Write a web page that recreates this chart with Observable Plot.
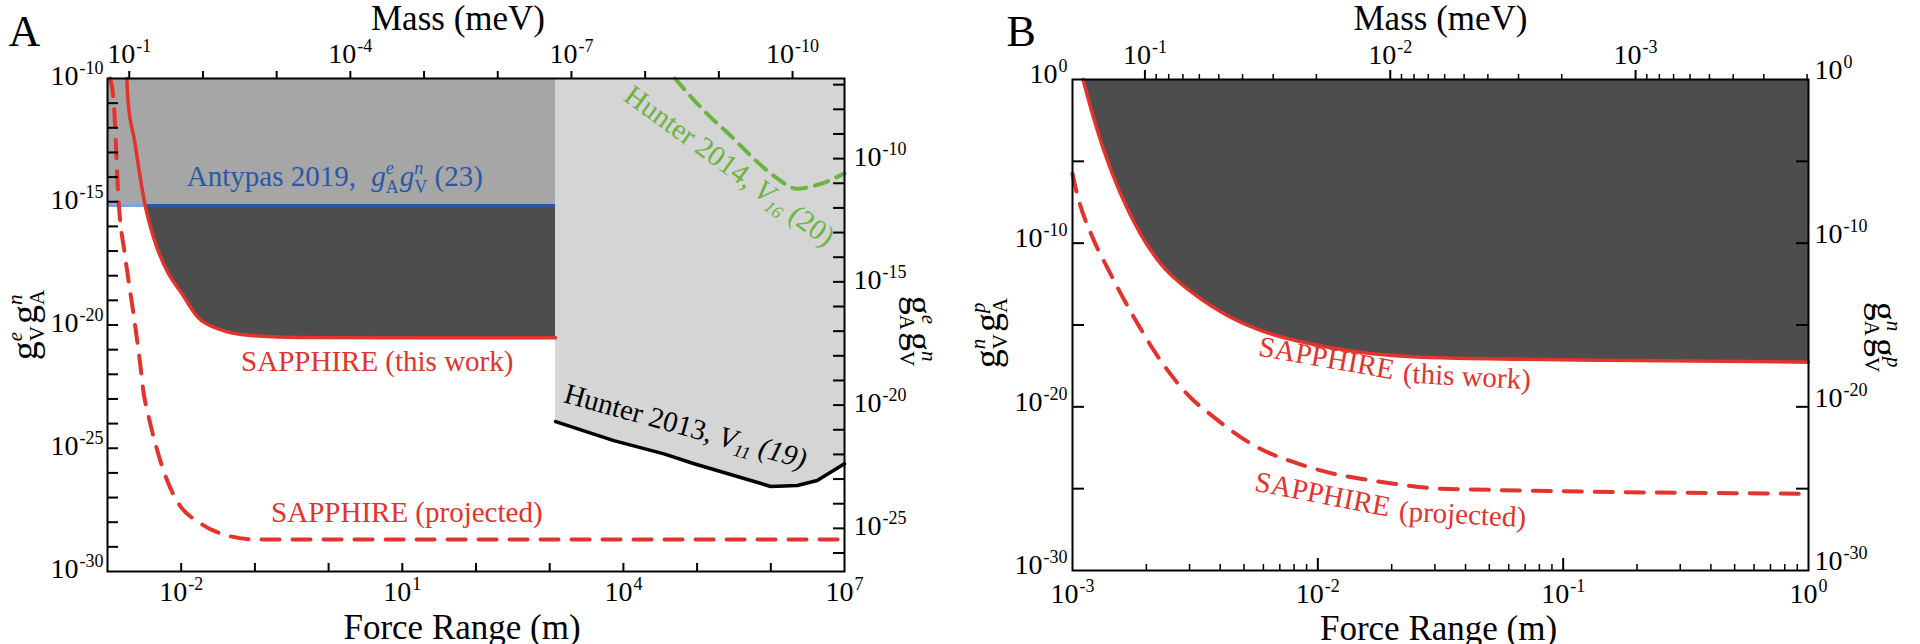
<!DOCTYPE html>
<html><head><meta charset="utf-8">
<script src="https://cdn.jsdelivr.net/npm/d3@7"></script>
<script src="https://cdn.jsdelivr.net/npm/@observablehq/plot@0.6"></script>
<style>
html,body{margin:0;padding:0;background:#fff;}
#wrap{display:flex;width:1920px;height:644px;}
.panel{width:960px;height:644px;}
svg{overflow:visible;}
</style></head><body>
<div id="wrap"><div id="pa" class="panel"></div><div id="pb" class="panel"></div></div>
<script>
// ---------- constants ----------
const HC = 1.9733e-4; // meV·m  (mass = HC / range)
const FONT = "'Liberation Serif', 'Times New Roman', Times, serif";
const RED = "#e2332c", BLUE = "#2b58a6", LIGHTBLUE = "#7fa3dc", GREEN = "#6cb43f";
const MED = "#a6a6a6", DARK = "#4d4d4d", LIGHT = "#d5d5d5";

// ---------- Panel A data (log10 values) ----------
const aRangeExp = [-3, 7];          // force range domain (m)
const aCouplingExp = [-30, -10];    // g^e_V g^n_A domain
const aRightOffset = 3.25;          // right axis (g^e_A g^n_V) = left * 10^offset
const aAntypasExp = -15.15;         // Antypas 2019 level
const aAntypasSplitExp = -2.488;    // where SAPPHIRE crosses Antypas (m)
const aHunterEdgeExp = 3.08;        // start of Hunter region (m)

const aSapRangeExp = [-2.738,-2.722,-2.633,-2.542,-2.488,-2.362,-2.181,-2.0,-1.770,-1.503,-1.051,-0.374,3.08];
const aSapGExp     = [-10,-10.89,-12.52,-14.27,-15.16,-16.57,-17.87,-18.68,-19.70,-20.15,-20.43,-20.51,-20.52];

const aProjRangeExp = [-2.962,-2.917,-2.850,-2.759,-2.641,-2.551,-2.515,-2.451,-2.332,-2.190,-2.027,-1.756,-1.377,-0.97,7];
const aProjGExp     = [-10,-10.89,-14.95,-17.25,-19.68,-21.71,-22.66,-23.59,-25.01,-26.31,-27.28,-28.01,-28.54,-28.70,-28.70];

const aH13RangeExp = [3.08,3.87,4.55,4.96,6.0,6.36,6.63,7.0];
const aH13GExp     = [-23.92,-24.69,-25.23,-25.63,-26.55,-26.51,-26.31,-25.63];

const aH14RangeExp = [4.70,5.114,5.476,5.747,6.063,6.356,6.649,7.0];
const aH14GExp     = [-10,-11.37,-12.38,-13.19,-14.0,-14.47,-14.30,-13.85];

// ticks / labels A
const aBottomTickExp = [-2,-1,0,1,2,3,4,5,6];
const aBottomLabelExp = [-2,1,4,7];
const aLeftTickExp = d3.range(-29, -10);
const aLeftLabelExp = [-10,-15,-20,-25,-30];
const aRightTickExp = d3.range(-26, -6);
const aRightLabelExp = [-10,-15,-20,-25];
const aMassTickExp = [-1,-2,-3,-4,-5,-6,-7,-8,-9,-10];
const aMassLabelExp = [-1,-4,-7,-10];

// ---------- Panel B data ----------
const bRangeExp = [-3, 0];
const bCouplingExp = [-30, 0];
const bSapRangeExp = [-2.957,-2.934,-2.872,-2.804,-2.723,-2.641,-2.506,-2.369,-2.234,-2.030,-1.826,-1.50,-0.82,0];
const bSapGExp     = [0,-1.28,-4.34,-6.98,-9.43,-11.26,-13.09,-14.42,-15.33,-16.15,-16.66,-17.0,-17.15,-17.27];
const bProjRangeExp = [-3.0,-2.988,-2.913,-2.859,-2.75,-2.641,-2.519,-2.424,-2.315,-2.206,-2.098,-1.962,-1.826,-1.69,-1.50,0];
const bProjGExp     = [-5.76,-6.58,-9.83,-11.47,-14.52,-17.17,-19.43,-20.63,-21.85,-22.77,-23.38,-23.99,-24.39,-24.70,-25.0,-25.31];

const bBottomMajorExp = [-2,-1];
const bBottomMinorMult = [2,3,4,5,6,7,8,9];
const bBottomLabelExp = [-3,-2,-1,0];
const bSideTickExp = [-5,-10,-15,-20,-25];
const bSideLabelExp = [0,-10,-20,-30];
const bMassMajorExp = [-1,-2,-3];
const bMassMinorDecades = [-2,-3,-4];
const bMassLabelExp = [-1,-2,-3];

// ---------- annotation positions (log10 range, log10 coupling) ----------
const aNotes = [
  {key:"@antypas", r:-1.923, g:-14.38, rot:0, color:BLUE},
  {key:"SAPPHIRE (this work)", r:-1.187, g:-21.85, rot:0, color:RED},
  {key:"SAPPHIRE (projected)", r:-0.78, g:-28.0, rot:0, color:RED},
  {key:"@h13", r:3.172, g:-23.12, rot:15.5, color:"#000"},
  {key:"@h14", r:3.985, g:-10.85, rot:36, color:GREEN}
];
const bNotes = [
  {key:"SAPPHIRE", r:-2.246, g:-16.86, rot:10, color:RED},
  {key:"(this work)", r:-1.655, g:-18.51, rot:3, color:RED},
  {key:"SAPPHIRE", r:-2.262, g:-25.11, rot:11, color:RED},
  {key:"(projected)", r:-1.671, g:-26.94, rot:3, color:RED}
];

// ---------- helpers ----------
const pts = (xs, ys) => xs.map((x, i) => ({x: 10 ** x, y: 10 ** ys[i]}));
const p10 = e => 10 ** e;
const expLabel = d => "10^" + Math.round(Math.log10(d));

const gTitle = (e1, s1, e2, s2) => [
  {t:"g", fs:38},
  {t:e1, fs:21, it:1, dy:-15},
  {t:s1, fs:21, dx:-(e1 === "e" ? 9.3 : 10.5), dy:22},
  {t:"g", fs:38, dy:-7, dx:2},
  {t:e2, fs:21, it:1, dy:-15},
  {t:s2, fs:21, dx:-(e2 === "e" ? 9.3 : 10.5), dy:22}
];
const RICH = {
  "@antypas": [{t:"Antypas 2019, "}, {t:"g", it:1, dx:8}, {t:"e", fs:18, it:1, dy:-12}, {t:"A", fs:18, dx:-8, dy:19},
               {t:"g", it:1, dy:-7, dx:1}, {t:"n", fs:18, it:1, dy:-12}, {t:"V", fs:18, dx:-9, dy:19}, {t:" (23)", dy:-7}],
  "@h13": [{t:"Hunter 2013, "}, {t:"V", it:1}, {t:"11", it:1, fs:18, dy:6}, {t:" (19)", it:1, dy:-6}],
  "@h14": [{t:"Hunter 2014, "}, {t:"V", it:1}, {t:"16", it:1, fs:18, dy:6}, {t:" (20)", dy:-6}],
  "@aLeft": gTitle("e","V","n","A"),
  "@aRight": gTitle("e","A","n","V"),
  "@bLeft": gTitle("n","V","p","A"),
  "@bRight": gTitle("n","A","p","V")
};

function applyRich(svg) {
  d3.select(svg).selectAll("text").each(function () {
    if (this.querySelector("tspan")) return;
    const t = this.textContent;
    let parts = null;
    const m = /^10\^(-?\d+)$/.exec(t);
    if (m) parts = [{t:"10"}, {t:m[1], fs:18, dy:-11, dx:1}];
    else if (RICH[t]) parts = RICH[t];
    if (!parts) return;
    const el = d3.select(this);
    el.text(null);
    for (const p of parts) {
      const s = el.append("tspan").text(p.t);
      if (p.fs) s.attr("font-size", p.fs);
      if (p.dy) s.attr("dy", p.dy);
      if (p.dx) s.attr("dx", p.dx);
      if (p.it) s.attr("font-style", "italic");
    }
  });
}

// ---------- Panel A ----------
const aSap = pts(aSapRangeExp, aSapGExp);
const aProj = pts(aProjRangeExp, aProjGExp);
const aH13 = pts(aH13RangeExp, aH13GExp);
const aH14 = pts(aH14RangeExp, aH14GExp);
const antypas = p10(aAntypasExp);
const aDark = aSap.map(d => ({x: d.x, lo: Math.min(d.y, antypas), hi: antypas}));
const aPW = 960 - 107 - 116, aPH = 644 - 78 - 73;

const plotA = Plot.plot({
  width: 960, height: 644,
  marginLeft: 107, marginRight: 116, marginTop: 78, marginBottom: 73,
  x: {type: "log", domain: aRangeExp.map(p10)},
  y: {type: "log", domain: aCouplingExp.map(p10)},
  style: {fontFamily: FONT, fontSize: "28px", color: "#000", background: "transparent"},
  marks: [
    Plot.rect([{x1: p10(aRangeExp[0]), x2: p10(aHunterEdgeExp), y1: antypas, y2: p10(aCouplingExp[1])}],
      {x1: "x1", x2: "x2", y1: "y1", y2: "y2", fill: MED}),
    Plot.areaY(aDark, {x: "x", y1: "lo", y2: "hi", fill: DARK, curve: "monotone-x"}),
    Plot.areaY(aH13, {x: "x", y1: "y", y2: p10(aCouplingExp[1]), fill: LIGHT}),
    Plot.line(aH14, {x: "x", y: "y", stroke: GREEN, strokeWidth: 4, strokeDasharray: "14,9", curve: "monotone-x"}),
    Plot.line(aH13, {x: "x", y: "y", stroke: "#000", strokeWidth: 3.5}),
    Plot.ruleY([antypas], {x1: p10(aRangeExp[0]), x2: p10(aAntypasSplitExp), stroke: LIGHTBLUE, strokeWidth: 3}),
    Plot.ruleY([antypas], {x1: p10(aAntypasSplitExp), x2: p10(aHunterEdgeExp), stroke: BLUE, strokeWidth: 3}),
    Plot.line(aSap, {x: "x", y: "y", stroke: RED, strokeWidth: 3.5, curve: "monotone-x"}),
    Plot.line(aProj, {x: "x", y: "y", stroke: RED, strokeWidth: 4, strokeDasharray: "18,13", curve: "monotone-x"}),
    // inward ticks
    Plot.tickX(aBottomTickExp.map(p10), {x: d => d, insetTop: aPH - 8, stroke: "#000", strokeWidth: 2}),
    Plot.tickY(aLeftTickExp.map(p10), {y: d => d, insetRight: aPW - 11, stroke: "#000", strokeWidth: 2}),
    Plot.tickY(aRightTickExp.map(e => p10(e - aRightOffset)), {y: d => d, insetLeft: aPW - 11, stroke: "#000", strokeWidth: 2}),
    // top mass axis (outward ticks)
    Plot.axisX(aMassTickExp.map(e => HC / p10(e)), {anchor: "top", tickSize: 8, tickFormat: () => "", strokeWidth: 2, label: null}),
    Plot.frame({stroke: "#000", strokeWidth: 2}),
    // tick labels
    Plot.axisX(aBottomLabelExp.map(p10), {anchor: "bottom", tickSize: 0, tickPadding: 10, tickFormat: expLabel, label: null}),
    Plot.axisX(aMassLabelExp.map(e => HC / p10(e)), {anchor: "top", tickSize: 0, tickPadding: 16,
      tickFormat: d => "10^" + Math.round(Math.log10(HC / d)), label: null}),
    Plot.axisY(aLeftLabelExp.map(p10), {anchor: "left", tickSize: 0, tickPadding: 4, dy: -2, tickFormat: expLabel, label: null}),
    Plot.axisY(aRightLabelExp.map(e => p10(e - aRightOffset)), {anchor: "right", tickSize: 0, tickPadding: 9, dy: -2,
      tickFormat: d => "10^" + Math.round(Math.log10(d) + aRightOffset), label: null}),
    // annotations
    ...aNotes.map(n => Plot.text([n], {x: d => p10(d.r), y: d => p10(d.g), text: "key", rotate: n.rot,
      textAnchor: "start", lineAnchor: "bottom", fill: n.color, fontSize: 29})),
    // titles
    Plot.text(["Force Range (m)"], {frameAnchor: "bottom", text: d => d, dy: 67, dx: -14, lineAnchor: "bottom", fontSize: 35}),
    Plot.text(["Mass (meV)"], {frameAnchor: "top", text: d => d, dy: -49, dx: -18, lineAnchor: "bottom", fontSize: 35}),
    Plot.text(["A"], {frameAnchor: "top-left", text: d => d, dx: -99, dy: -33, textAnchor: "start", lineAnchor: "bottom", fontSize: 44}),
    Plot.text(["@aLeft"], {frameAnchor: "left", text: d => d, dx: -79, rotate: -90, textAnchor: "middle", lineAnchor: "middle"}),
    Plot.text(["@aRight"], {frameAnchor: "right", text: d => d, dx: 71, dy: 6, rotate: 90, textAnchor: "middle", lineAnchor: "middle"})
  ]
});
applyRich(plotA);
document.getElementById("pa").appendChild(plotA);

// ---------- Panel B ----------
const bSap = pts(bSapRangeExp, bSapGExp);
const bProj = pts(bProjRangeExp, bProjGExp);
const bPW = 960 - 112 - 112, bPH = 644 - 79 - 74;
const bDomX = bRangeExp.map(p10);
const inX = v => v >= bDomX[0] && v <= bDomX[1];
const bBottomMinor = [-3,-2,-1].flatMap(e => bBottomMinorMult.map(m => m * p10(e))).filter(inX);
const bMassMinor = bMassMinorDecades.flatMap(e => bBottomMinorMult.map(m => HC / (m * p10(e)))).filter(inX);

const plotB = Plot.plot({
  width: 960, height: 644,
  marginLeft: 112, marginRight: 112, marginTop: 79, marginBottom: 74,
  x: {type: "log", domain: bDomX},
  y: {type: "log", domain: bCouplingExp.map(p10)},
  style: {fontFamily: FONT, fontSize: "28px", color: "#000", background: "transparent"},
  marks: [
    Plot.areaY(bSap, {x: "x", y1: "y", y2: p10(bCouplingExp[1]), fill: DARK, curve: "monotone-x"}),
    Plot.line(bSap, {x: "x", y: "y", stroke: RED, strokeWidth: 3.5, curve: "monotone-x"}),
    Plot.line(bProj, {x: "x", y: "y", stroke: RED, strokeWidth: 4, strokeDasharray: "18,13", curve: "monotone-x"}),
    Plot.tickX(bBottomMajorExp.map(p10), {x: d => d, insetTop: bPH - 12, stroke: "#000", strokeWidth: 2}),
    Plot.tickX(bBottomMinor, {x: d => d, insetTop: bPH - 6, stroke: "#000", strokeWidth: 1.5}),
    Plot.tickY(bSideTickExp.map(p10), {y: d => d, insetRight: bPW - 12, stroke: "#000", strokeWidth: 2}),
    Plot.tickY(bSideTickExp.map(p10), {y: d => d, insetLeft: bPW - 12, stroke: "#000", strokeWidth: 2}),
    Plot.axisX(bMassMajorExp.map(e => HC / p10(e)), {anchor: "top", tickSize: 10, tickFormat: () => "", strokeWidth: 2, label: null}),
    Plot.axisX(bMassMinor, {anchor: "top", tickSize: 6, tickFormat: () => "", strokeWidth: 1.5, label: null}),
    Plot.frame({stroke: "#000", strokeWidth: 2}),
    Plot.axisX(bBottomLabelExp.map(p10), {anchor: "bottom", tickSize: 0, tickPadding: 13, tickFormat: expLabel, label: null}),
    Plot.axisX(bMassLabelExp.map(e => HC / p10(e)), {anchor: "top", tickSize: 0, tickPadding: 16,
      tickFormat: d => "10^" + Math.round(Math.log10(HC / d)), label: null}),
    Plot.axisY(bSideLabelExp.map(p10), {anchor: "left", tickSize: 0, tickPadding: 5, dy: -5, tickFormat: expLabel, label: null}),
    Plot.axisY(bSideLabelExp.map(p10), {anchor: "right", tickSize: 0, tickPadding: 6, dy: -9, tickFormat: expLabel, label: null}),
    ...bNotes.map(n => Plot.text([n], {x: d => p10(d.r), y: d => p10(d.g), text: "key", rotate: n.rot,
      textAnchor: "start", lineAnchor: "bottom", fill: n.color, fontSize: 29})),
    Plot.text(["Force Range (m)"], {frameAnchor: "bottom", text: d => d, dy: 69, dx: -2, lineAnchor: "bottom", fontSize: 35}),
    Plot.text(["Mass (meV)"], {frameAnchor: "top", text: d => d, dy: -50, dx: 0, lineAnchor: "bottom", fontSize: 35}),
    Plot.text(["B"], {frameAnchor: "top-left", text: d => d, dx: -66, dy: -34, textAnchor: "start", lineAnchor: "bottom", fontSize: 44}),
    Plot.text(["@bLeft"], {frameAnchor: "left", text: d => d, dx: -81, dy: 8, rotate: -90, textAnchor: "middle", lineAnchor: "middle"}),
    Plot.text(["@bRight"], {frameAnchor: "right", text: d => d, dx: 72, dy: 12, rotate: 90, textAnchor: "middle", lineAnchor: "middle"})
  ]
});
applyRich(plotB);
document.getElementById("pb").appendChild(plotB);
</script></body></html>
